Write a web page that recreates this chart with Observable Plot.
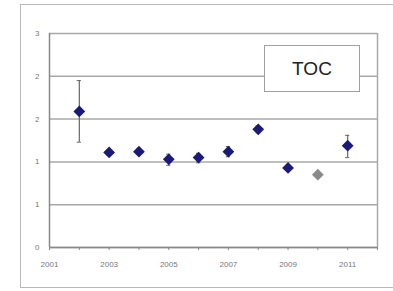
<!DOCTYPE html>
<html>
<head>
<meta charset="utf-8">
<script src="https://cdn.jsdelivr.net/npm/d3@7"></script>
<script src="https://cdn.jsdelivr.net/npm/@observablehq/plot@0.6"></script>
<style>
  html, body { margin: 0; padding: 0; background: #fff; }
  #wrap { position: relative; width: 393px; height: 291px; overflow: hidden; }
  #frame { position: absolute; left: 20px; top: 4px; width: 380px; height: 284px;
           border: 1.5px solid #b8b8b8; box-sizing: border-box; pointer-events: none; }
  #legend { position: absolute; left: 264px; top: 45px; width: 96px; height: 47px;
            border: 1.5px solid #a0a0a0; background: #fff; box-sizing: border-box;
            font-family: "Liberation Sans", Arial, sans-serif; font-size: 19px; color: #222;
            display: flex; align-items: center; justify-content: center; }
  svg { position: absolute; left: 0; top: 0; }
</style>
</head>
<body>
<div id="wrap"></div>
<script>
const years  = [2002, 2003, 2004, 2005, 2006, 2007, 2008, 2009, 2010, 2011];
const values = [1.59, 1.11, 1.12, 1.03, 1.05, 1.12, 1.38, 0.93, 0.85, 1.19];
const lows   = [1.23, 1.08, 1.09, 0.96, 0.99, 1.06, 1.34, 0.90, 0.85, 1.05];
const highs  = [1.95, 1.14, 1.15, 1.09, 1.10, 1.18, 1.42, 0.96, 0.85, 1.31];
const isGray = [false, false, false, false, false, false, false, false, true, false];
const yTicks = [0, 0.5, 1, 1.5, 2, 2.5];
const xTicks = [2001, 2003, 2005, 2007, 2009, 2011];
const seriesName = "TOC";

const data = years.map((y, i) => ({year: y, value: values[i], lo: lows[i], hi: highs[i], gray: isGray[i]}));
const bars = data.filter(d => !d.gray);
const caps = bars.flatMap(d => [{year: d.year, v: d.lo}, {year: d.year, v: d.hi}]);

const chart = Plot.plot({
  width: 393,
  height: 291,
  marginLeft: 49,
  marginRight: 16,
  marginTop: 33,
  marginBottom: 44,
  style: {background: "transparent", fontFamily: "Liberation Sans, Arial, sans-serif", fontSize: "8px", color: "#777"},
  x: {domain: [2001, 2012], ticks: xTicks, tickFormat: d => String(d), tickSize: 0, tickPadding: 14, label: null},
  y: {domain: [0, 2.5], ticks: yTicks, tickFormat: d => String(Math.round(d)), tickSize: 0, tickPadding: 10, label: null},
  marks: [
    Plot.gridY(yTicks, {stroke: "#a8a8a8", strokeOpacity: 1, strokeWidth: 1.5}),
    Plot.ruleX([2012], {stroke: "#a8a8a8", strokeWidth: 1.5}),
    Plot.ruleX([2001], {stroke: "#888", strokeWidth: 1.5}),
    Plot.ruleY([0], {stroke: "#888", strokeWidth: 1.5}),
    Plot.ruleX(d3.range(2001, 2013), {x: d => d, y1: -0.035, y2: 0, stroke: "#888"}),
    Plot.ruleX(bars, {x: "year", y1: "lo", y2: "hi", stroke: "#666", strokeWidth: 1.2}),
    Plot.ruleY(caps, {y: "v", x1: d => d.year - 0.07, x2: d => d.year + 0.07, stroke: "#666", strokeWidth: 1}),
    Plot.dot(data, {x: "year", y: "value", symbol: "diamond2", r: 5.3,
      fill: d => d.gray ? "#8a8a8a" : "#1a1a78", stroke: "none"})
  ]
});

const wrap = document.getElementById("wrap");
const frame = document.createElement("div");
frame.id = "frame";
wrap.appendChild(chart);
wrap.appendChild(frame);
const legend = document.createElement("div");
legend.id = "legend";
legend.textContent = seriesName;
wrap.appendChild(legend);
</script>
</body>
</html>
